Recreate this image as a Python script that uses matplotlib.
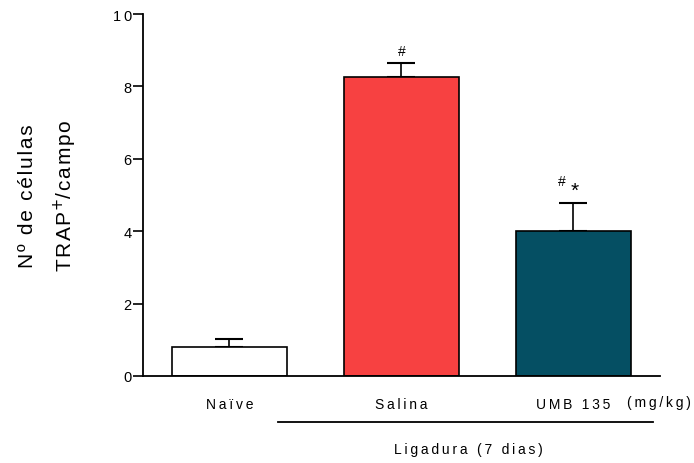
import numpy as np
import matplotlib

matplotlib.use("Agg")
import matplotlib.pyplot as plt  # noqa: E402

plt.rcParams["font.family"] = ["Liberation Sans", "DejaVu Sans"]

groups = ["Naïve", "Salina", "UMB 135"]
means = [0.81, 8.25, 4.0]
sem = [0.21, 0.39, 0.78]
colors = ["#FFFFFF", "#F74141", "#054F63"]
yticks = [0, 2, 4, 6, 8, 10]

SP = "\u2009"  # thin space, the original text is letter-spaced
HSP = "\u200a"  # hair space, tighter spacing for the axis title


def spaced(s, sp=SP):
    return sp.join(s)


fig = plt.figure(figsize=(6.94, 4.64), dpi=100, facecolor="white")
ax = fig.add_axes([0.206, 0.1875, 0.745, 0.78])

x = np.arange(len(groups))
ax.bar(x, means, width=0.67, color=colors, edgecolor="black", linewidth=1.2, zorder=2)
ax.errorbar(x, means, yerr=[np.zeros(len(sem)), sem], fmt="none", ecolor="black",
            elinewidth=1.2, capsize=10, capthick=1.5, zorder=1)

# significance marks
ax.text(x[1], means[1] + sem[1] + 0.33, "#", ha="center", va="center", fontsize=10)
ax.text(x[2] - 0.065, means[2] + sem[2] + 0.6, "#", ha="center", va="center", fontsize=10)
ax.text(x[2] + 0.005, means[2] + sem[2] + 0.36, "*", ha="center", va="center", fontsize=15)

ax.set_xlim(-0.503, 2.503)
ax.set_ylim(0, 10)
ax.set_yticks(yticks)
ax.set_yticklabels([spaced(str(t)) for t in yticks])
ax.tick_params(axis="y", labelsize=10.5, width=1.2, length=7, pad=1)
ax.set_xticks([])
for side in ("top", "right"):
    ax.spines[side].set_visible(False)
for side in ("left", "bottom"):
    ax.spines[side].set_linewidth(1.3)

ax.set_ylabel(spaced("Nº de células", HSP) + "\n" + spaced("TRAP", HSP) + "$^{+}$"
              + spaced("/campo", HSP), fontsize=15, labelpad=24, linespacing=1.72)

# group labels under the axis
for xi, g in zip(x, groups):
    ax.text(xi, -0.77, spaced(g), ha="center", va="center", fontsize=10)
ax.text(2.497, -0.72, spaced("(mg/kg)"), ha="center", va="center", fontsize=10)

# line under the ligature groups
ax.plot([0.28, 2.46], [-1.28, -1.28], color="black", lw=1.3, clip_on=False)
ax.text(1.39, -2.03, spaced("Ligadura (7 dias)"), ha="center", va="center", fontsize=10)

plt.savefig("out.png", dpi=100, facecolor="white")
